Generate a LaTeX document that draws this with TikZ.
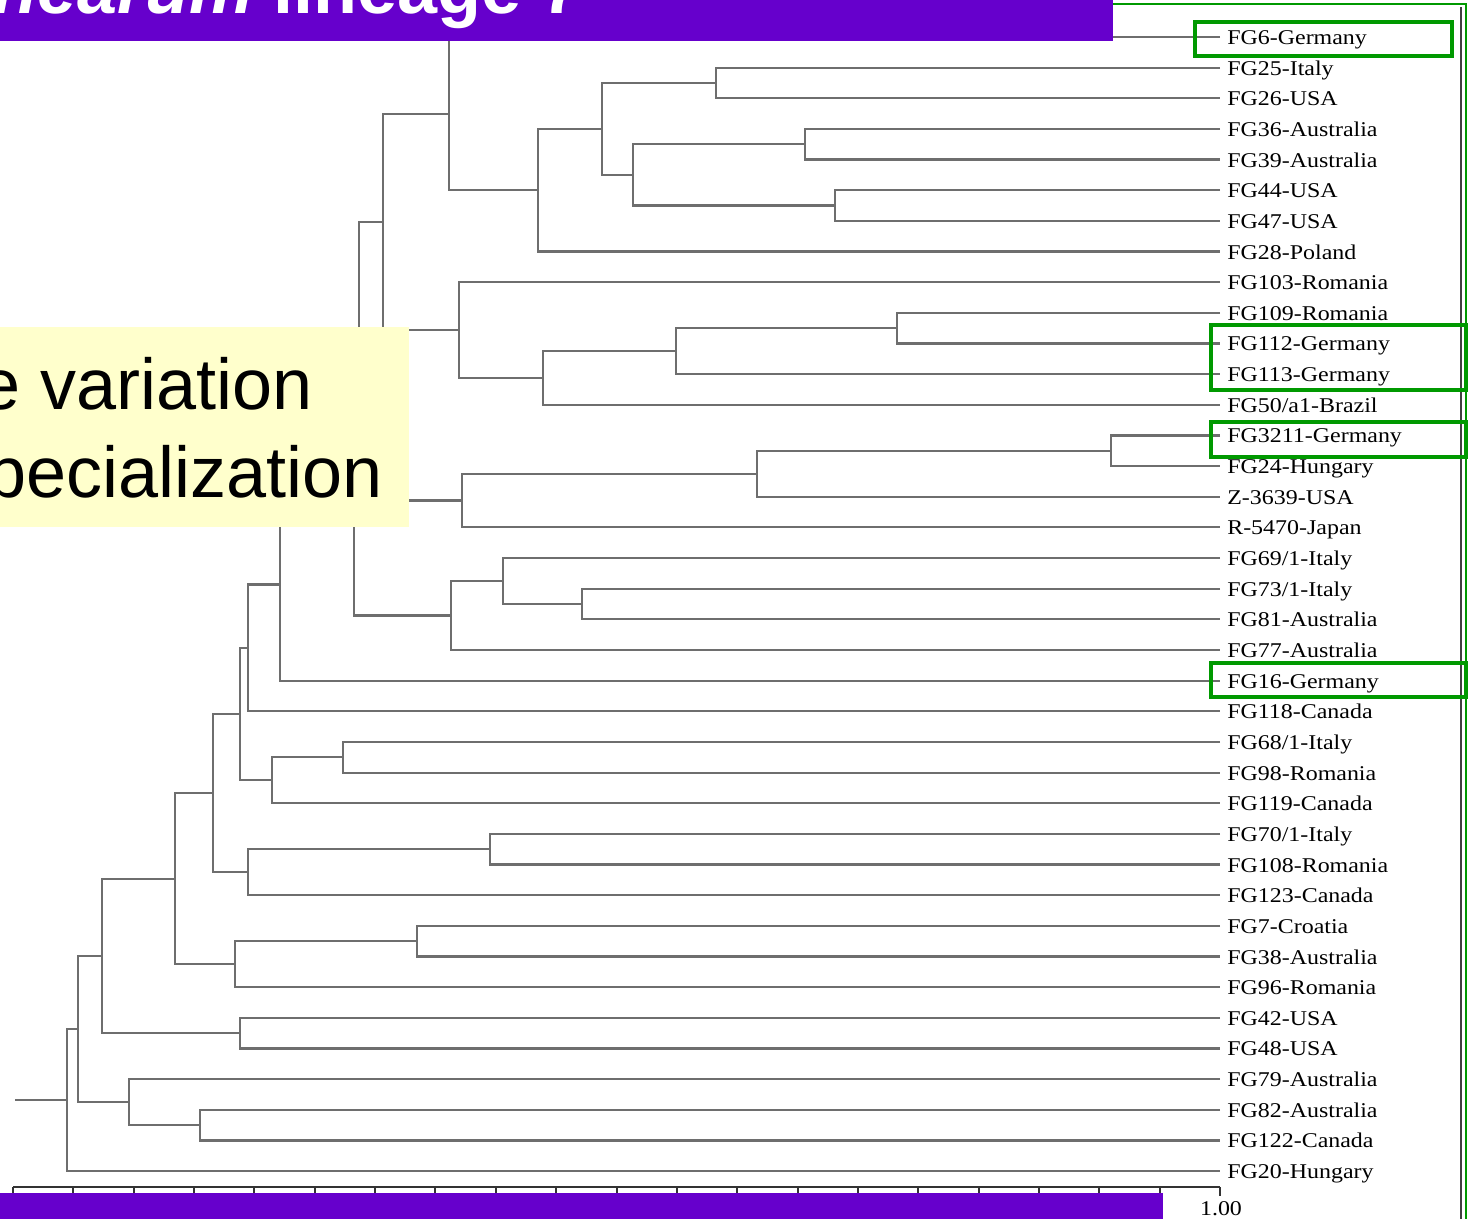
\documentclass[tikz,border=0pt]{standalone}
\usepackage{fontspec}
\setmainfont{Liberation Serif}
\newfontfamily\slidefont{Liberation Sans}
\usetikzlibrary{calc}

\definecolor{slidepurple}{RGB}{102,0,204}
\definecolor{noteyellow}{RGB}{255,255,204}
\definecolor{markgreen}{RGB}{0,153,0}
\definecolor{branchgray}{RGB}{110,110,110}

\tikzset{
  branch/.style={draw=branchgray, line width=1.1pt},
  leaf/.style={anchor=west, inner xsep=3pt, inner ysep=0pt, xscale=1.14,
    font=\fontsize{10.5}{12}\selectfont, text height=8.5pt, text depth=1pt},
  axisline/.style={draw=black!80, line width=1pt},
  markbox/.style={draw=markgreen, line width=2pt},
  bigtext/.style={inner sep=0pt, font=\slidefont\fontsize{36}{40}\selectfont},
}

% joins two clusters: name, x of the join, upper child, lower child
\newcommand{\cladejoin}[4]{%
  \coordinate (mid) at ($(#3)!0.5!(#4)$);
  \coordinate (#1) at (#2,0 |- mid);
  \draw[branch] (#3) -| (#1) |- (#4);
}

\begin{document}
\begin{tikzpicture}[x=0.5pt, y=-0.5pt]
  \useasboundingbox (0,0) rectangle (1468,1219);
  \clip (0,0) rectangle (1468,1219);

  % isolates
  \foreach \lab [count=\i] in {FG6-Germany, FG25-Italy, FG26-USA, FG36-Australia,
      FG39-Australia, FG44-USA, FG47-USA, FG28-Poland, FG103-Romania, FG109-Romania,
      FG112-Germany, FG113-Germany, FG50/a1-Brazil, FG3211-Germany, FG24-Hungary,
      Z-3639-USA, R-5470-Japan, FG69/1-Italy, FG73/1-Italy, FG81-Australia,
      FG77-Australia, FG16-Germany, FG118-Canada, FG68/1-Italy, FG98-Romania,
      FG119-Canada, FG70/1-Italy, FG108-Romania, FG123-Canada, FG7-Croatia,
      FG38-Australia, FG96-Romania, FG42-USA, FG48-USA, FG79-Australia,
      FG82-Australia, FG122-Canada, FG20-Hungary}
    \node[leaf] (L\i) at (1220,{37+(\i-1)*30.65}) {\lab};

  % upper clusters
  \cladejoin{a1}{716}{L2}{L3}
  \cladejoin{a2}{805}{L4}{L5}
  \cladejoin{a3}{835}{L6}{L7}
  \cladejoin{a4}{633}{a2}{a3}
  \cladejoin{a5}{602}{a1}{a4}
  \cladejoin{a6}{538}{a5}{L8}
  \cladejoin{a7}{449}{L1}{a6}
  \cladejoin{b1}{897}{L10}{L11}
  \cladejoin{b2}{676}{b1}{L12}
  \cladejoin{b3}{543}{b2}{L13}
  \cladejoin{b4}{459}{L9}{b3}
  \cladejoin{c1}{383}{a7}{b4}
  \cladejoin{d1}{1111}{L14}{L15}
  \cladejoin{d2}{757}{d1}{L16}
  \cladejoin{d3}{462}{d2}{L17}
  \cladejoin{c2}{359}{c1}{d3}
  \cladejoin{e1}{582}{L19}{L20}
  \cladejoin{e2}{503}{L18}{e1}
  \cladejoin{e3}{451}{e2}{L21}
  \cladejoin{c3}{354}{c2}{e3}
  \cladejoin{f1}{280}{c3}{L22}
  \cladejoin{f2}{248}{f1}{L23}
  % lower clusters
  \cladejoin{g1}{343}{L24}{L25}
  \cladejoin{g2}{272}{g1}{L26}
  \cladejoin{f3}{240}{f2}{g2}
  \cladejoin{h1}{490}{L27}{L28}
  \cladejoin{h2}{248}{h1}{L29}
  \cladejoin{f4}{213}{f3}{h2}
  \cladejoin{i1}{417}{L30}{L31}
  \cladejoin{i2}{235}{i1}{L32}
  \cladejoin{f5}{175}{f4}{i2}
  \cladejoin{j1}{240}{L33}{L34}
  \cladejoin{f6}{102}{f5}{j1}
  \cladejoin{k1}{200}{L36}{L37}
  \cladejoin{k2}{129}{L35}{k1}
  \cladejoin{f7}{78}{f6}{k2}
  \cladejoin{root}{67}{f7}{L38}
  \coordinate (stem) at (15,0 |- root);
  \draw[branch] (stem) -- (root);

  % similarity scale
  \draw[axisline] (13,1187) -- (1220,1187);
  \foreach \k in {0,...,19}
    \draw[axisline] ({13+\k*60.35},1187) -- ++(0,6);
  \draw[axisline] (1220,1187) -- ++(0,9);
  \node[leaf, anchor=base, inner xsep=0pt] (scale) at (1221,1215) {1.00};

  % slide overlays
  \fill[noteyellow] (0,327) rectangle (409,527);
  \node[bigtext, anchor=base east] (note1) at (313,410) {e variation};
  \node[bigtext, anchor=base east] (note2) at (383,498) {pecialization};

  \fill[slidepurple] (0,0) rectangle (1113,41);
  \node[bigtext, anchor=base east, text=white, font=\slidefont\fontsize{36}{40}\selectfont\bfseries]
    (title) at (582,14) {\textit{graminearum} lineage 7};
  \fill[slidepurple] (0,1193) rectangle (1163,1219);

  \draw[black!75, line width=0.7pt] (1461,7) -- (1461,1219);
  \draw[markgreen, line width=1.3pt] (1113,4) -- (1466,4) -- (1466,1219);

  \draw[markbox] (1195,22) rectangle (1452,56);
  \draw[markbox] (1211,325) rectangle (1466,390);
  \draw[markbox] (1211,422) rectangle (1466,457);
  \draw[markbox] (1211,663) rectangle (1466,697);
\end{tikzpicture}
\end{document}
